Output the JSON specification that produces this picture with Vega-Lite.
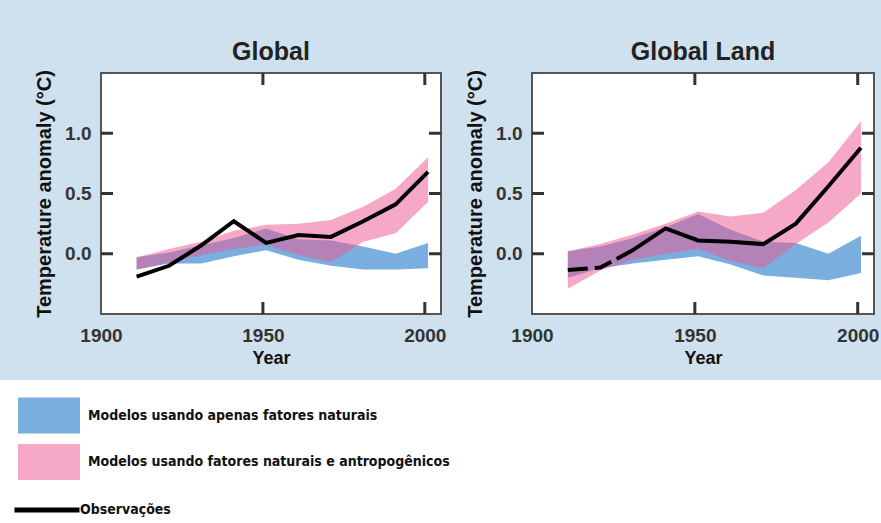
{
  "$schema": "https://vega.github.io/schema/vega-lite/v6.json",
  "background": "#cfe1ef",
  "padding": {"left": 0, "top": 38, "right": 0, "bottom": 0},
  "datasets": {
    "global": [
      {"year": 1911, "nat_lo": -0.13, "nat_hi": -0.03, "ant_lo": -0.13, "ant_hi": -0.03, "obs": -0.19},
      {"year": 1921, "nat_lo": -0.08, "nat_hi": 0.01, "ant_lo": -0.07, "ant_hi": 0.04, "obs": -0.1},
      {"year": 1931, "nat_lo": -0.08, "nat_hi": 0.07, "ant_lo": -0.01, "ant_hi": 0.1, "obs": 0.07},
      {"year": 1941, "nat_lo": -0.02, "nat_hi": 0.13, "ant_lo": 0.04, "ant_hi": 0.19, "obs": 0.27},
      {"year": 1951, "nat_lo": 0.03, "nat_hi": 0.21, "ant_lo": 0.075, "ant_hi": 0.24, "obs": 0.09},
      {"year": 1961, "nat_lo": -0.05, "nat_hi": 0.12, "ant_lo": -0.01, "ant_hi": 0.25, "obs": 0.155},
      {"year": 1971, "nat_lo": -0.1, "nat_hi": 0.11, "ant_lo": -0.07, "ant_hi": 0.28, "obs": 0.14},
      {"year": 1981, "nat_lo": -0.13, "nat_hi": 0.06, "ant_lo": 0.1, "ant_hi": 0.39, "obs": 0.27},
      {"year": 1991, "nat_lo": -0.13, "nat_hi": 0.0, "ant_lo": 0.17, "ant_hi": 0.54, "obs": 0.41},
      {"year": 2001, "nat_lo": -0.12, "nat_hi": 0.09, "ant_lo": 0.43, "ant_hi": 0.8, "obs": 0.68}
    ],
    "land": [
      {"year": 1911, "nat_lo": -0.2, "nat_hi": 0.02, "ant_lo": -0.29, "ant_hi": 0.02, "obs": -0.135},
      {"year": 1921, "nat_lo": -0.12, "nat_hi": 0.06, "ant_lo": -0.14, "ant_hi": 0.08, "obs": -0.115},
      {"year": 1931, "nat_lo": -0.08, "nat_hi": 0.13, "ant_lo": -0.05, "ant_hi": 0.16, "obs": 0.03},
      {"year": 1941, "nat_lo": -0.05, "nat_hi": 0.22, "ant_lo": 0.0, "ant_hi": 0.25, "obs": 0.21},
      {"year": 1951, "nat_lo": -0.02, "nat_hi": 0.33, "ant_lo": 0.04, "ant_hi": 0.35, "obs": 0.11},
      {"year": 1961, "nat_lo": -0.09, "nat_hi": 0.2, "ant_lo": -0.06, "ant_hi": 0.31, "obs": 0.1},
      {"year": 1971, "nat_lo": -0.18, "nat_hi": 0.1, "ant_lo": -0.12, "ant_hi": 0.34, "obs": 0.08},
      {"year": 1981, "nat_lo": -0.2, "nat_hi": 0.09, "ant_lo": 0.08, "ant_hi": 0.53, "obs": 0.25},
      {"year": 1991, "nat_lo": -0.22, "nat_hi": 0.0, "ant_lo": 0.26, "ant_hi": 0.76, "obs": 0.56},
      {"year": 2001, "nat_lo": -0.16, "nat_hi": 0.15, "ant_lo": 0.5, "ant_hi": 1.1, "obs": 0.88}
    ],
    "xticks": [{"tick": 1950}, {"tick": 2000}],
    "yticks": [{"tick": 0}, {"tick": 0.5}, {"tick": 1}]
  },
  "vconcat": [
    {
      "hconcat": [
        {
          "width": 16, "height": 10,
          "data": {"values": []},
          "mark": "point",
          "view": {"fill": null, "stroke": null}
        },
        {
          "width": 340, "height": 241,
          "title": {"text": "Global", "anchor": "middle", "frame": "group"},
          "data": {"name": "global"},
          "layer": [
            {
              "mark": {"type": "area", "opacity": 1},
              "encoding": {
                "x": {"field": "year", "type": "quantitative", "scale": {"domain": [1900, 2005], "nice": false, "zero": false},
                      "axis": {"orient": "bottom", "values": [1900, 1950, 2000], "format": "d", "title": "Year", "labelPadding": 12, "titlePadding": 4}},
                "y": {"field": "nat_lo", "type": "quantitative", "stack": null, "scale": {"domain": [-0.5, 1.5], "nice": false, "zero": false},
                      "axis": {"orient": "left", "values": [0, 0.5, 1], "format": ".1f", "title": "Temperature anomaly (°C)", "titleFontSize": 20, "labelPadding": 10, "titlePadding": 10}},
                "y2": {"field": "nat_hi"},
                "fill": {"datum": "Modelos usando apenas fatores naturais", "type": "nominal",
                         "scale": {"domain": ["Modelos usando apenas fatores naturais", "Modelos usando fatores naturais e antropogênicos"], "range": ["#7aaedf", "rgba(235,90,145,0.52)"]},
                         "legend": {"title": null, "symbolType": "M-2,-1.16H2V1.16H-2Z", "symbolSize": 961, "symbolStrokeWidth": 0, "labelOffset": 23.5, "rowPadding": 9.5, "legendX": 33.5, "legendY": 327}}
              }
            },
            {
              "mark": {"type": "area", "opacity": 1},
              "encoding": {
                "x": {"field": "year", "type": "quantitative"},
                "y": {"field": "ant_lo", "type": "quantitative", "stack": null},
                "y2": {"field": "ant_hi"},
                "fill": {"datum": "Modelos usando fatores naturais e antropogênicos", "type": "nominal"}
              }
            },
            {
              "mark": {"type": "line", "strokeWidth": 4},
              "encoding": {
                "x": {"field": "year", "type": "quantitative"},
                "y": {"field": "obs", "type": "quantitative"},
                "stroke": {"datum": "Observações", "type": "nominal", "scale": {"range": ["black"]},
                           "legend": {"title": null, "symbolType": "stroke", "symbolSize": 4225, "symbolStrokeWidth": 5, "labelOffset": -2, "legendX": 12, "legendY": 402}}
              }
            },
            {
              "data": {"name": "xticks"},
              "mark": {"type": "tick", "orient": "vertical", "size": 24, "thickness": 3, "color": "#333333", "filled": true, "opacity": 1, "clip": true},
              "encoding": {"x": {"field": "tick", "type": "quantitative"}, "y": {"datum": -0.5}}
            },
            {
              "data": {"name": "xticks"},
              "mark": {"type": "tick", "orient": "vertical", "size": 24, "thickness": 3, "color": "#333333", "filled": true, "opacity": 1, "clip": true},
              "encoding": {"x": {"field": "tick", "type": "quantitative"}, "y": {"datum": 1.5}}
            },
            {
              "data": {"name": "yticks"},
              "mark": {"type": "tick", "orient": "horizontal", "size": 24, "thickness": 3, "color": "#333333", "filled": true, "opacity": 1, "clip": true},
              "encoding": {"y": {"field": "tick", "type": "quantitative"}, "x": {"datum": 1900}}
            },
            {
              "data": {"name": "yticks"},
              "mark": {"type": "tick", "orient": "horizontal", "size": 24, "thickness": 3, "color": "#333333", "filled": true, "opacity": 1, "clip": true},
              "encoding": {"y": {"field": "tick", "type": "quantitative"}, "x": {"datum": 2005}}
            }
          ]
        },
        {
          "width": 342, "height": 241,
          "title": {"text": "Global Land", "anchor": "middle", "frame": "group"},
          "data": {"name": "land"},
          "layer": [
            {
              "mark": {"type": "area", "opacity": 1},
              "encoding": {
                "x": {"field": "year", "type": "quantitative", "scale": {"domain": [1900, 2005], "nice": false, "zero": false},
                      "axis": {"orient": "bottom", "values": [1900, 1950, 2000], "format": "d", "title": "Year", "labelPadding": 12, "titlePadding": 4}},
                "y": {"field": "nat_lo", "type": "quantitative", "stack": null, "scale": {"domain": [-0.5, 1.5], "nice": false, "zero": false},
                      "axis": {"orient": "left", "values": [0, 0.5, 1], "format": ".1f", "title": "Temperature anomaly (°C)", "titleFontSize": 20, "labelPadding": 10, "titlePadding": 10}},
                "y2": {"field": "nat_hi"},
                "fill": {"datum": "Modelos usando apenas fatores naturais", "type": "nominal",
                         "legend": {"title": null, "symbolType": "M-2,-1.16H2V1.16H-2Z", "symbolSize": 961, "symbolStrokeWidth": 0, "labelOffset": 23.5, "rowPadding": 9.5, "legendX": 33.5, "legendY": 327}}
              }
            },
            {
              "mark": {"type": "area", "opacity": 1},
              "encoding": {
                "x": {"field": "year", "type": "quantitative"},
                "y": {"field": "ant_lo", "type": "quantitative", "stack": null},
                "y2": {"field": "ant_hi"},
                "fill": {"datum": "Modelos usando fatores naturais e antropogênicos", "type": "nominal"}
              }
            },
            {
              "mark": {"type": "line", "strokeWidth": 4, "strokeDash": [20, 7, 18, 6, 2000]},
              "encoding": {
                "x": {"field": "year", "type": "quantitative"},
                "y": {"field": "obs", "type": "quantitative"},
                "stroke": {"datum": "Observações", "type": "nominal",
                           "legend": {"title": null, "symbolType": "stroke", "symbolSize": 4225, "symbolStrokeWidth": 5, "labelOffset": -2, "legendX": 12, "legendY": 402}}
              }
            },
            {
              "data": {"name": "xticks"},
              "mark": {"type": "tick", "orient": "vertical", "size": 24, "thickness": 3, "color": "#333333", "filled": true, "opacity": 1, "clip": true},
              "encoding": {"x": {"field": "tick", "type": "quantitative"}, "y": {"datum": -0.5}}
            },
            {
              "data": {"name": "xticks"},
              "mark": {"type": "tick", "orient": "vertical", "size": 24, "thickness": 3, "color": "#333333", "filled": true, "opacity": 1, "clip": true},
              "encoding": {"x": {"field": "tick", "type": "quantitative"}, "y": {"datum": 1.5}}
            },
            {
              "data": {"name": "yticks"},
              "mark": {"type": "tick", "orient": "horizontal", "size": 24, "thickness": 3, "color": "#333333", "filled": true, "opacity": 1, "clip": true},
              "encoding": {"y": {"field": "tick", "type": "quantitative"}, "x": {"datum": 1900}}
            },
            {
              "data": {"name": "yticks"},
              "mark": {"type": "tick", "orient": "horizontal", "size": 24, "thickness": 3, "color": "#333333", "filled": true, "opacity": 1, "clip": true},
              "encoding": {"y": {"field": "tick", "type": "quantitative"}, "x": {"datum": 2005}}
            }
          ]
        }
      ],
      "spacing": 17
    },
    {
      "width": 881, "height": 143,
      "data": {"values": []},
      "mark": "point",
      "view": {"fill": "white", "stroke": null}
    }
  ],
  "spacing": 12,
  "config": {
    "view": {"fill": "white", "stroke": "#555555", "strokeWidth": 2},
    "axis": {
      "labelFont": "Liberation Sans", "labelFontWeight": "bold", "labelFontSize": 19, "labelColor": "#333333",
      "titleFont": "Liberation Sans", "titleFontWeight": "bold", "titleFontSize": 18, "titleColor": "#111111",
      "domain": false, "ticks": false, "grid": false,
      "labelFlush": false, "labelOverlap": false
    },
    "title": {"font": "Liberation Sans", "fontSize": 25, "fontWeight": "bold", "color": "#222222", "offset": 5},
    "legend": {
      "orient": "none", "padding": 0,
      "labelFont": "Liberation Sans Narrow, DejaVu Sans Condensed, sans-serif", "labelFontSize": 14, "labelFontWeight": "bold", "labelColor": "#111111", "labelLimit": 600
    }
  }
}
